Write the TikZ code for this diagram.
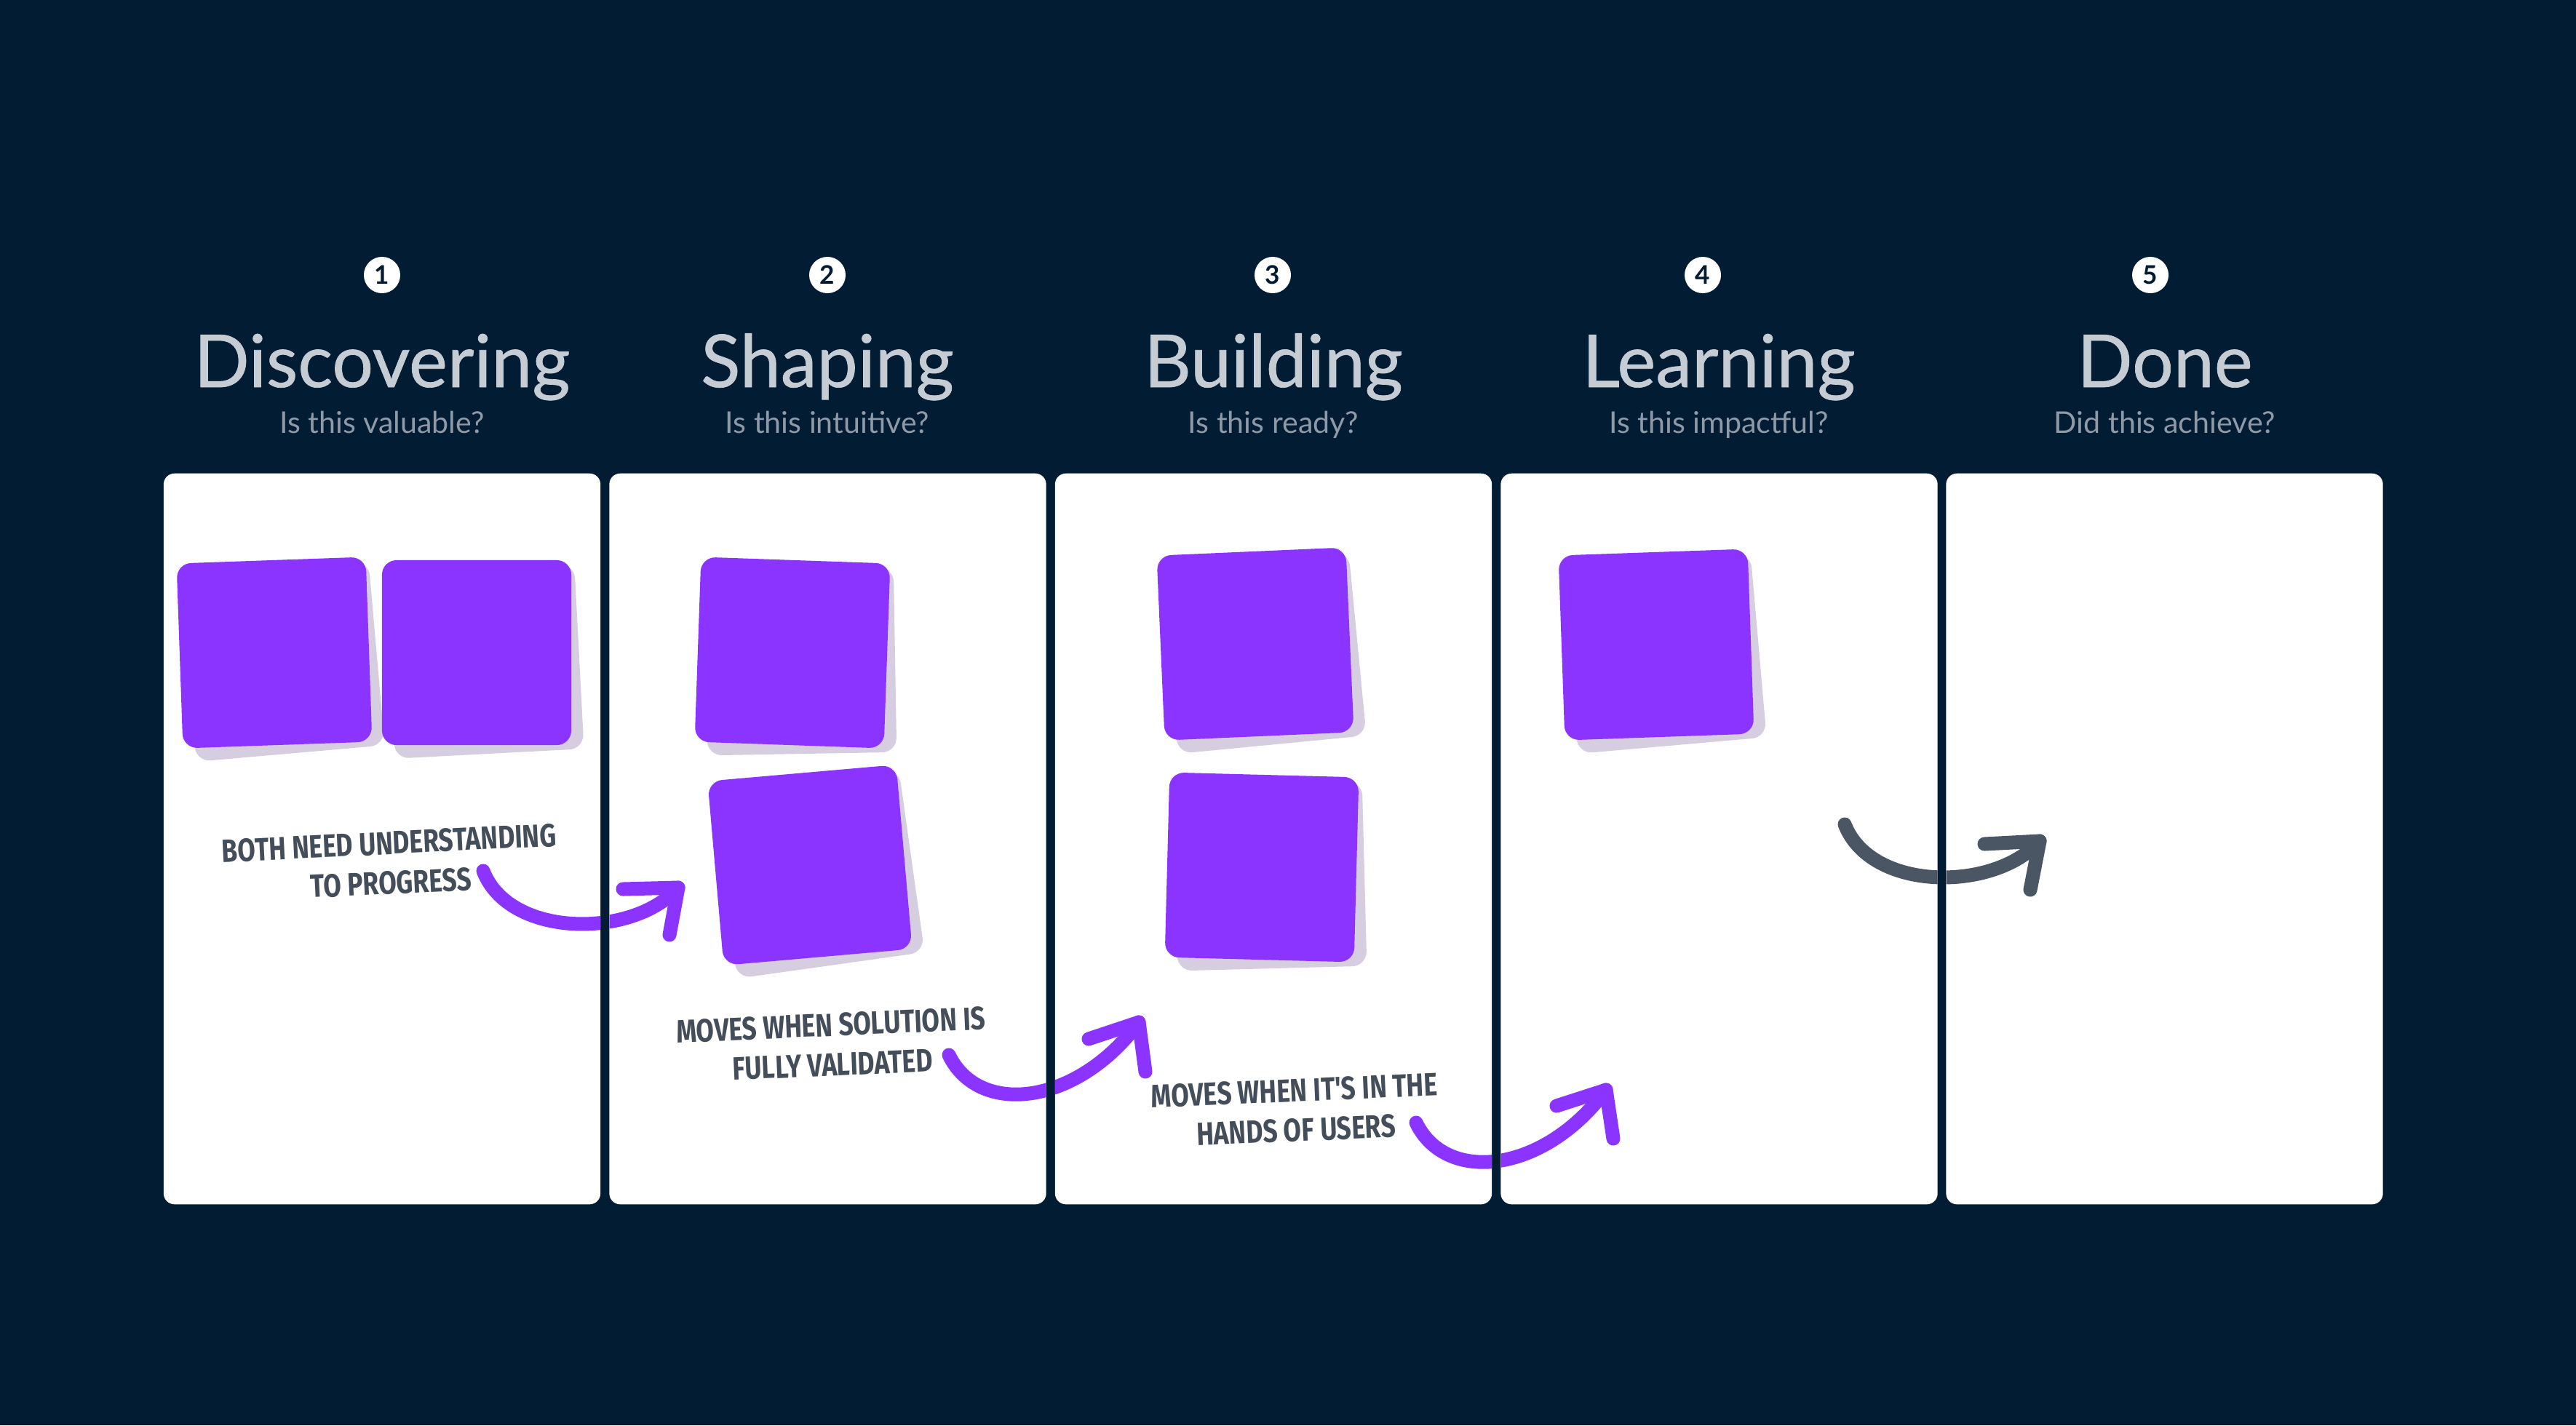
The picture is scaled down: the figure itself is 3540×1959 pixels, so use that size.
\documentclass[tikz,border=0pt]{standalone}
\usepackage{fontspec}
\setmainfont{Lato}
\newfontfamily\handfont[FakeStretch=0.8]{Fira Sans}
\newfontfamily\stagefont[FakeBold=0.7]{Lato}
\usepackage{tikz}
\usetikzlibrary{shapes}

\definecolor{bgnavy}{HTML}{011C33}
\definecolor{notepurple}{HTML}{8B33FF}
\definecolor{noteshadow}{HTML}{D6CEE0}
\definecolor{titlegray}{HTML}{C6CCD3}
\definecolor{subgray}{HTML}{8E9AA7}
\definecolor{inkgray}{HTML}{434E5A}
\definecolor{arrowgray}{HTML}{4A5663}

\begin{document}
\begin{tikzpicture}[x=0.01cm,y=-0.01cm]
          \tikzstyle{column}=[rectangle,fill=white,rounded corners=0.15cm,minimum width=6cm,minimum height=10.04cm,inner sep=0pt]
          \tikzstyle{num}=[circle,fill=white,text=bgnavy,minimum size=0.5cm,inner sep=0pt,font=\fontsize{10}{10}\selectfont\bfseries]
          \tikzstyle{stage}=[text=titlegray,anchor=base,inner sep=0pt,font=\stagefont\fontsize{28.5}{30}\selectfont]
          \tikzstyle{question}=[text=subgray,anchor=base,inner sep=0pt,font=\fontsize{11.7}{13}\selectfont]
          \tikzstyle{card}=[rectangle,fill=notepurple,rounded corners=0.2cm,minimum width=2.6cm,minimum height=2.54cm,inner sep=0pt]
          \tikzstyle{cardshadow}=[card,fill=noteshadow]
          \tikzstyle{hand}=[text=inkgray,align=center,inner sep=0pt,font=\handfont\bfseries\fontsize{12.6}{15.5}\selectfont]
          \tikzstyle{brush}=[line width=0.19cm,line cap=round,line join=round,draw=notepurple]
          \tikzstyle{greybrush}=[brush,draw=arrowgray]

          \fill[bgnavy] (0,0) rectangle (3540,1959);
          \useasboundingbox (0,0) rectangle (3540,1959);

          \begin{scope}
            \node[num](n1) at (525,378) {1};
            \node[num](n2) at (1137,378) {2};
            \node[num](n3) at (1749,378) {3};
            \node[num](n4) at (2340,378) {4};
            \node[num](n5) at (2955,378) {5};

            \node[stage](t1) at (525,532) {Discovering};
            \node[stage](t2) at (1137,532) {Shaping};
            \node[stage](t3) at (1750,532) {Building};
            \node[stage](t4) at (2362,532) {Learning};
            \node[stage](t5) at (2975,532) {Done};

            \node[question](q1) at (525,595) {Is this valuable?};
            \node[question](q2) at (1137,595) {Is this intuitive?};
            \node[question](q3) at (1750,595) {Is this ready?};
            \node[question](q4) at (2362,595) {Is this impactful?};
            \node[question](q5) at (2975,595) {Did this achieve?};
          \end{scope}

          \begin{scope}
            \node[column](c1) at (525,1153) {};
            \node[column](c2) at (1137.5,1153) {};
            \node[column](c3) at (1750,1153) {};
            \node[column](c4) at (2362.5,1153) {};
            \node[column](c5) at (2974.5,1153) {};
          \end{scope}

          \begin{scope}
            \node[cardshadow,rotate=5](s1) at (388,909) {};
            \node[card,rotate=2](k1) at (377,897) {};
            \node[cardshadow,rotate=3](s2) at (666,909) {};
            \node[card,rotate=0](k2) at (655,897) {};
            \node[cardshadow,rotate=1](s3) at (1100,909) {};
            \node[card,rotate=-2](k3) at (1089,897) {};
            \node[cardshadow,rotate=8](s4) at (1124,1201) {};
            \node[card,rotate=5](k4) at (1113,1189) {};
            \node[cardshadow,rotate=5.5](s5) at (1736,897) {};
            \node[card,rotate=2.5](k5) at (1725,885) {};
            \node[cardshadow,rotate=1.5](s6) at (1745,1204) {};
            \node[card,rotate=-1.5](k6) at (1734,1192) {};
            \node[cardshadow,rotate=5](s7) at (2287,898) {};
            \node[card,rotate=2](k7) at (2276,886) {};
          \end{scope}

          \begin{scope}
            \node[hand,rotate=2.8](h1) at (536,1186) {BOTH NEED UNDERSTANDING\\TO PROGRESS};
            \node[hand,rotate=2.5](h2) at (1143,1436) {MOVES WHEN SOLUTION IS\\FULLY VALIDATED};
            \node[hand,rotate=2.5](h3) at (1780,1526) {MOVES WHEN IT'S IN THE\\HANDS OF USERS};
          \end{scope}

          \begin{scope}
            \clip (225,651) rectangle (825,1655) (837.5,651) rectangle (1437.5,1655)
              (1450,651) rectangle (2050,1655) (2062.5,651) rectangle (2662.5,1655)
              (2674.5,651) rectangle (3274.5,1655);
            \coordinate (a1s) at (664,1197);
            \coordinate (a1e) at (932,1220);
            \coordinate (a2s) at (1304,1450);
            \coordinate (a2e) at (1565,1405);
            \coordinate (a3s) at (1946,1543);
            \coordinate (a3e) at (2207,1498);
            \coordinate (a4s) at (2535,1133);
            \coordinate (a4e) at (2803,1156);

            \draw[brush] (a1s) .. controls (700,1290) and (870,1290) .. (a1e);
            \draw[brush] (a1e) -- ++(-76,2) (a1e) -- ++(-12,65);
            \draw[brush] (a2s) .. controls (1345,1535) and (1480,1520) .. (a2e);
            \draw[brush] (a2e) -- ++(-69,23) (a2e) -- ++(9,68);
            \draw[brush] (a3s) .. controls (1987,1628) and (2122,1613) .. (a3e);
            \draw[brush] (a3e) -- ++(-68,22) (a3e) -- ++(10,67);
            \draw[greybrush] (a4s) .. controls (2571,1226) and (2741,1226) .. (a4e);
            \draw[greybrush] (a4e) -- ++(-76,4) (a4e) -- ++(-13,67);
          \end{scope}
        \end{tikzpicture}
\end{document}
